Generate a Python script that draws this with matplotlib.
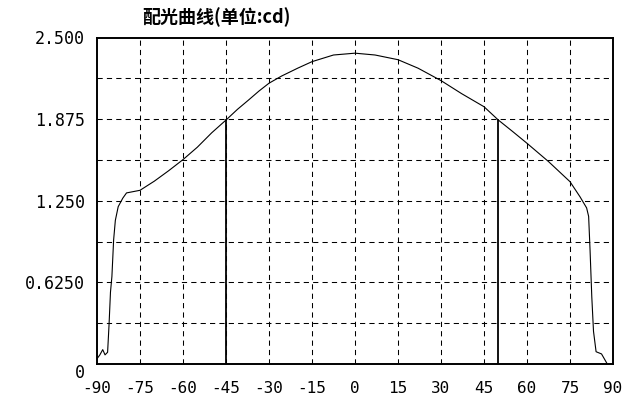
import numpy as np
import matplotlib
matplotlib.use('Agg')
import matplotlib.pyplot as plt

# ----- Data -----
angles = [-90, -89, -88, -87.2, -86.3, -85.8, -85.3, -84.8, -84.2, -83.6,
          -82.6, -81, -79.7, -75, -70, -65, -60, -55, -50, -45,
          -41, -37.2, -33.5, -30, -25.6, -20, -15, -7.5, 0, 7, 15, 22, 30,
          37.2, 45, 50, 55, 60, 67.5, 75, 78.5, 80.8, 81.5, 82, 82.6, 83.2,
          84.1, 86, 87.8]
intensity = [0.04, 0.07, 0.11, 0.07, 0.09, 0.30, 0.55, 0.67, 0.95, 1.10,
             1.205, 1.27, 1.31, 1.33, 1.40, 1.48, 1.565, 1.66, 1.77, 1.868,
             1.95, 2.02, 2.09, 2.15, 2.205, 2.265, 2.315, 2.366, 2.38, 2.366,
             2.33, 2.265, 2.17, 2.07, 1.97, 1.868, 1.78, 1.69, 1.55, 1.396,
             1.28, 1.195, 1.13, 0.87, 0.515, 0.25, 0.094, 0.077, 0.008]

half_angles = [-45, 50]

x_ticks = list(range(-90, 91, 15))
x_ticklabels = [str(t) for t in x_ticks]
y_ticks = [0, 0.625, 1.25, 1.875, 2.5]
y_ticklabels = ['0', '0.6250', '1.250', '1.875', '2.500']
y_grid = [0.3125 * k for k in range(1, 8)]

title = '配光曲线(单位:cd)'

# ----- Figure -----
fig = plt.figure(figsize=(6.31, 4.01), dpi=100)
ax = fig.add_axes([97 / 631, 1 - 364 / 401, 516 / 631, 326.5 / 401])

dash = (0, (5, 4))
for xv in x_ticks[1:-1]:
    ax.axvline(xv, color='black', lw=0.75, linestyle=dash, zorder=1)
for yv in y_grid:
    ax.axhline(yv, color='black', lw=0.75, linestyle=dash, zorder=1)

ax.plot(angles, intensity, color='black', lw=0.8, zorder=3)

# vertical marks from the axis up to the curve
for a in half_angles:
    top = np.interp(a, angles, intensity)
    ax.plot([a, a], [0, top], color='black', lw=1.3, zorder=3)

ax.set_xlim(-90, 90)
ax.set_ylim(0, 2.5)
ax.set_xticks(x_ticks)
ax.set_xticklabels(x_ticklabels, family='DejaVu Sans Mono', fontsize=11.5)
ax.set_yticks(y_ticks)
ax.set_yticklabels(y_ticklabels, family='DejaVu Sans Mono', fontsize=12)
ax.tick_params(axis='both', length=0)
ax.tick_params(axis='x', pad=12)
ax.tick_params(axis='y', pad=8.5)
ax.get_yticklabels()[0].set_verticalalignment('top')

for s in ax.spines.values():
    s.set_linewidth(1.4)
    s.set_color('black')

fig.text(216 / 631, 1 - 17 / 401, title, ha='center', va='center',
         family=['Noto Sans CJK SC', 'DejaVu Sans'], fontsize=13,
         fontweight='bold')

fig.savefig('out.png', dpi=100)
